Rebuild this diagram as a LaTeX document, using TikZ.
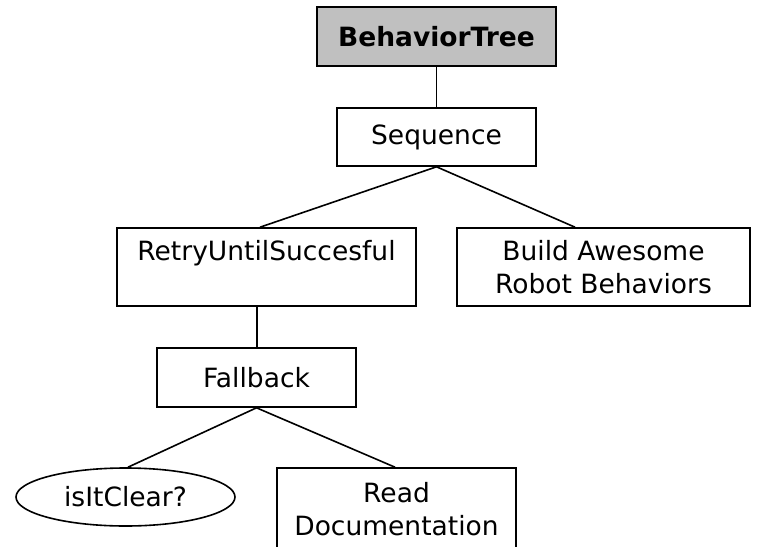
\documentclass[tikz,border=0pt]{standalone}
\usepackage{fontspec}
\setmainfont{DejaVu Sans}
\usetikzlibrary{shapes.geometric}
\definecolor{rootgray}{RGB}{192,192,192}
\tikzset{
  treebox/.style={draw=black, line width=1.6pt, rectangle, inner sep=0pt,
    align=center, font=\fontsize{26.5}{33}\selectfont},
  treeoval/.style={draw=black, line width=1.6pt, ellipse, inner sep=0pt,
    font=\fontsize{26.5}{33}\selectfont},
  edge/.style={draw=black, line width=1.6pt}
}
\begin{document}
\begin{tikzpicture}[x=1pt, y=-1pt]
  \useasboundingbox (0,0) rectangle (765,546);
  \clip (0,0) rectangle (765,546);
  \fill[white] (0,0) rectangle (765,546);

  % tree nodes
  \node[treebox, fill=rootgray, minimum width=239pt, minimum height=59pt,
        font=\fontsize{26.5}{33}\selectfont\bfseries] (root) at (436.5,36.5) {BehaviorTree};
  \node[treebox, minimum width=199pt, minimum height=58pt] (seq) at (436.5,137) {Sequence};
  \node[treebox, minimum width=299pt, minimum height=78pt] (retry) at (266.5,267)
        {RetryUntilSuccesful\\\phantom{Robot Behaviors}};
  \node[treebox, minimum width=293pt, minimum height=78pt] (build) at (603.5,267)
        {Build Awesome\\Robot Behaviors};
  \node[treebox, minimum width=199pt, minimum height=59pt] (fallback) at (256.5,377.5) {Fallback};
  \node[treeoval, minimum width=219pt, minimum height=58pt] (clear) at (125.5,497) {isItClear?};
  \node[treebox, minimum width=239pt, minimum height=83pt] (read) at (396.5,509.5)
        {Read\\Documentation};

  % connectors
  \draw[edge] (root.south) -- (seq.north);
  \draw[edge] (seq.south) -- ([xshift=-6.5pt]retry.north);
  \draw[edge] (seq.south) -- ([xshift=-28.5pt]build.north);
  \draw[edge] ([xshift=-9.5pt]retry.south) -- ([xshift=0.5pt]fallback.north);
  \draw[edge] (fallback.south) -- ([xshift=2.5pt]clear.north);
  \draw[edge] (fallback.south) -- ([xshift=-1.5pt]read.north);
\end{tikzpicture}
\end{document}
